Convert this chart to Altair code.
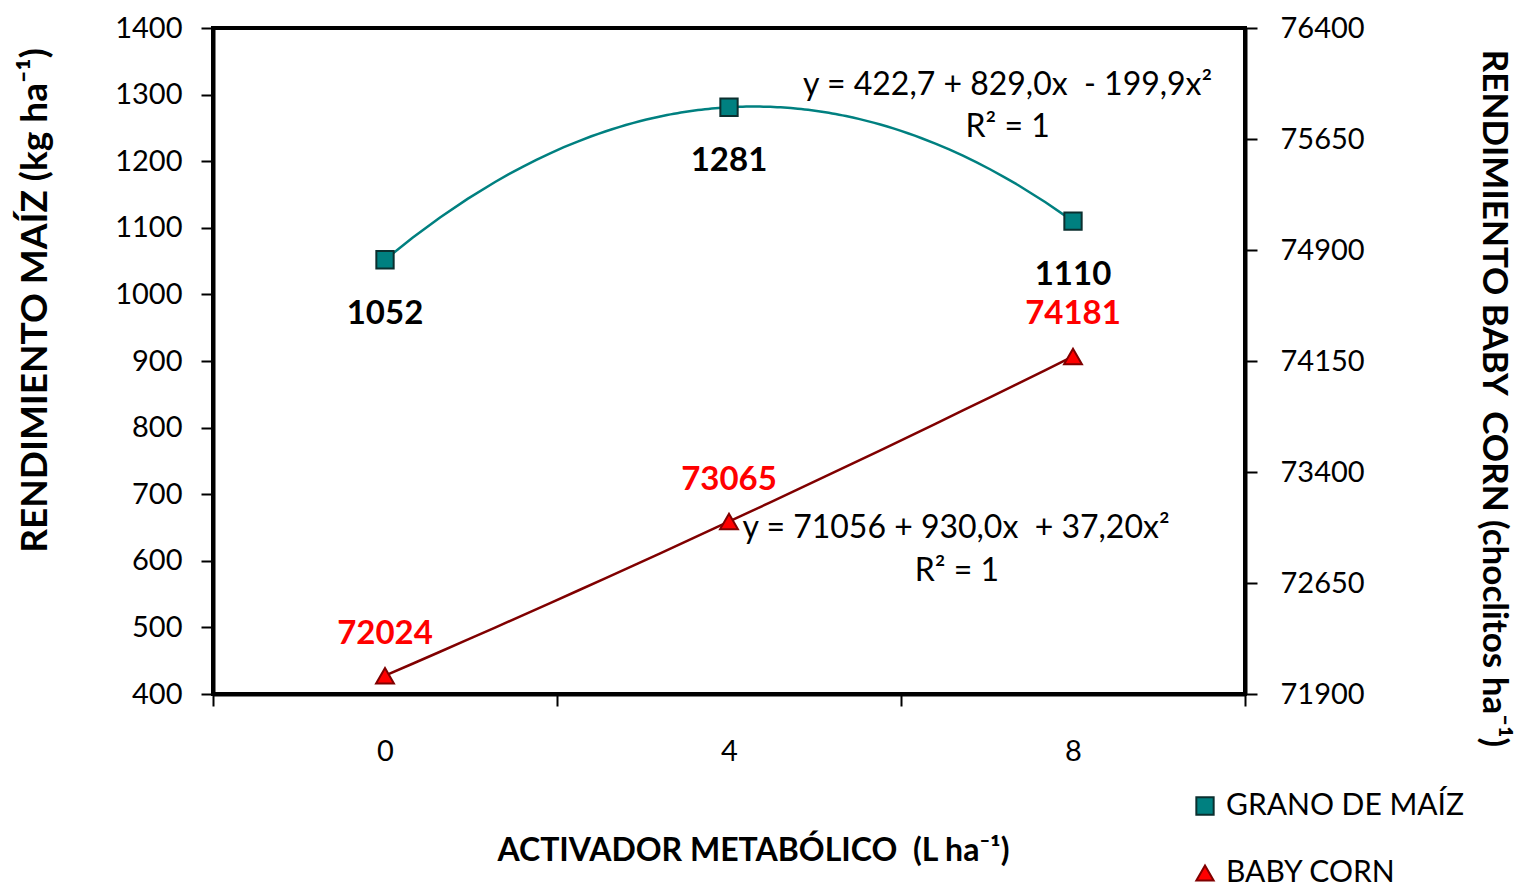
import altair as alt
import pandas as pd

# ---- data ----
dosis = [0, 4, 8]                      # L ha-1 (category labels)
grano = [1052, 1281, 1110]             # kg ha-1 (left axis)
baby_corn = [72024, 73065, 74181]      # choclitos ha-1 (right axis)
series = ["GRANO DE MAÍZ", "BABY CORN"]
eq_text = ["y = 422,7 + 829,0x \u00a0- 199,9x²", "R² = 1",
           "y = 71056 + 930,0x \u00a0+ 37,20x²", "R² = 1"]
eq_x = [7.24, 7.24, 6.64, 6.65]
eq_y = [1315, 1251, 650, 584]

left_ticks = list(range(400, 1401, 100))
right_ticks = [71900, 72650, 73400, 74150, 74900, 75650, 76400]

FONT = "Lato"
TEAL = "#008080"
TEAL_DARK = "#0b2f2f"
RED = "#ff0000"
RED_DARK = "#800000"
W, H = 1032, 666

df_g = pd.DataFrame({"x": dosis, "y": grano, "serie": series[0]})
df_b = pd.DataFrame({"x": dosis, "y": baby_corn, "serie": series[1]})
df_eq = pd.DataFrame({"x": eq_x, "y": eq_y, "t": eq_text})

xenc = alt.X(
    "x:Q",
    scale=alt.Scale(domain=[-2, 10], nice=False, zero=False),
    axis=alt.Axis(
        values=[-2, 0, 2, 4, 6, 8, 10],
        labelExpr="datum.value % 4 == 0 ? datum.label : ''",
        tickOpacity={"condition": {"test": "datum.value % 4 == 0", "value": 0}, "value": 1},
        labelPadding=31,
        title="ACTIVADOR METABÓLICO \u00a0(L ha⁻¹)",
        titleFontSize=32,
        titleX=540, titleY=156, titleBaseline="middle", titleAnchor="middle",
    ),
)

y_left = alt.Y(
    "y:Q",
    scale=alt.Scale(domain=[400, 1400], nice=False, zero=False),
    axis=alt.Axis(
        values=left_ticks, labelPadding=19, format="d",
        title="RENDIMIENTO MAÍZ (kg ha⁻¹)",
        titleFontSize=37,
        titleX=-178, titleY=272, titleBaseline="middle", titleAnchor="middle",
    ),
)

y_right = alt.Y(
    "y:Q",
    scale=alt.Scale(domain=[71900, 76400], nice=False, zero=False),
    axis=alt.Axis(
        orient="right", values=right_ticks, labelPadding=23, format="d",
        title="RENDIMIENTO BABY \u00a0CORN (choclitos ha⁻¹)",
        titleFontSize=35,
        titleX=248, titleY=370, titleBaseline="middle", titleAnchor="middle",
    ),
)

fill_enc = alt.Fill("serie:N", title=None,
                    scale=alt.Scale(domain=series, range=[TEAL, RED]))
stroke_enc = alt.Stroke("serie:N", title=None,
                        scale=alt.Scale(domain=series, range=[TEAL_DARK, RED_DARK]))
shape_enc = alt.Shape("serie:N", title=None,
                      scale=alt.Scale(domain=series, range=["square", "triangle-up"]))

# ---- left layers (grano) ----
g_line = alt.Chart(df_g).transform_regression(
    "x", "y", method="poly", order=2, extent=[0, 8]
).mark_line(color=TEAL, strokeWidth=2.5).encode(x=xenc, y=y_left)

g_pts = alt.Chart(df_g).mark_point(filled=True, size=300, strokeWidth=2, opacity=1).encode(
    x=xenc, y=y_left, fill=fill_enc, stroke=stroke_enc, shape=shape_enc)

g_lab = alt.Chart(df_g).mark_text(dy=54, font=FONT, fontSize=33, fontWeight="bold",
                                  color="black").encode(x=xenc, y=y_left, text="y:Q")

eqs = alt.Chart(df_eq).mark_text(font=FONT, fontSize=32, color="black", align="center").encode(
    x=xenc, y=y_left, text="t:N")

left = alt.layer(g_line, eqs, g_pts, g_lab)

# ---- right layers (baby corn) ----
b_line = alt.Chart(df_b).transform_regression(
    "x", "y", method="poly", order=2, extent=[0, 8]
).mark_line(color=RED_DARK, strokeWidth=2.5).encode(x=xenc, y=y_right)

b_pts = alt.Chart(df_b).mark_point(filled=True, size=320, strokeWidth=2, opacity=1).encode(
    x=xenc, y=y_right, fill=fill_enc, stroke=stroke_enc, shape=shape_enc)

b_lab = alt.Chart(df_b).mark_text(dy=-42, font=FONT, fontSize=33, fontWeight="bold",
                                  color=RED).encode(x=xenc, y=y_right, text="y:Q")

right = alt.layer(b_line, b_pts, b_lab)

chart = alt.layer(left, right).resolve_scale(y="independent").properties(
    width=W, height=H,
    padding={"left": 205, "top": 20, "right": 272, "bottom": 197},
    autosize=alt.AutoSizeParams(type="none"),
).configure_view(
    stroke="black", strokeWidth=4
).configure_axis(
    grid=False,
    domainColor="black", domainWidth=4,
    tickColor="black", tickWidth=2, tickSize=12,
    labelFont=FONT, labelFontSize=29, labelColor="black",
    titleFont=FONT, titleFontSize=28, titleFontWeight="bold", titleColor="black",
).configure_legend(
    orient="none", legendX=977, legendY=763,
    labelFont=FONT, labelFontSize=30, labelColor="black", labelLimit=0,
    symbolSize=300, symbolStrokeWidth=2, rowPadding=37, labelOffset=6,
)

chart.save("out.html", embed_options={"renderer": "svg", "actions": False})
